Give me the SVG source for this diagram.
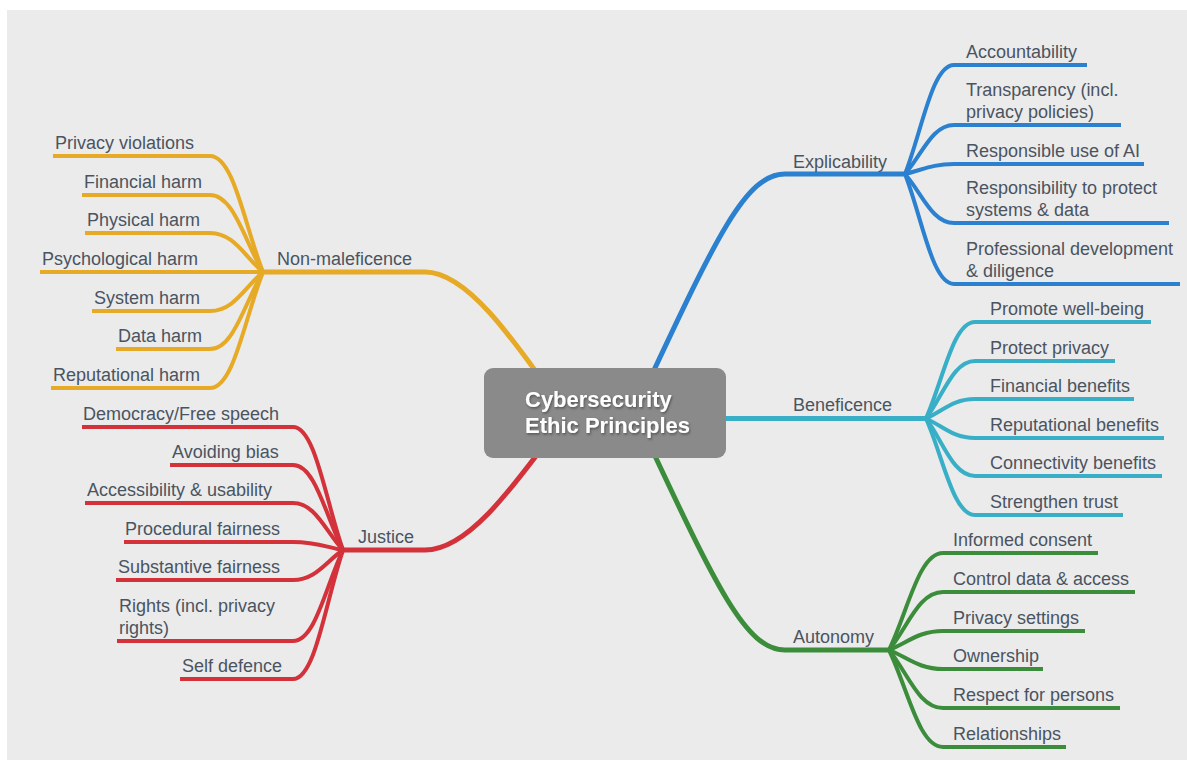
<svg xmlns="http://www.w3.org/2000/svg" width="1187" height="762" viewBox="0 0 1187 762">
  <defs>
    <filter id="textShadow" x="-10%" y="-30%" width="120%" height="160%">
      <feDropShadow dx="1" dy="1.5" stdDeviation="1" flood-color="#3a3a3a" flood-opacity="0.7"/>
    </filter>
    <style>
      .lbl { font-family: "Liberation Sans", Arial, Helvetica, sans-serif; font-size: 18px; fill: #4a5461; }
      .core { font-family: "Liberation Sans", Arial, Helvetica, sans-serif; font-size: 22px; font-weight: bold; fill: #ffffff; }
      .main { fill: none; stroke-width: 5; }
      .leaf { fill: none; stroke-width: 4; }
      .yellow { stroke: #e6aa26; }
      .red { stroke: #d3323a; }
      .blue { stroke: #2b80cf; }
      .cyan { stroke: #38afc7; }
      .green { stroke: #3b8d3b; }
    </style>
  </defs>

  <!-- page -->
  <rect x="0" y="0" width="1187" height="762" fill="#ffffff"/>
  <rect x="7" y="10" width="1180" height="750" fill="#ebebeb"/>

  <g id="connectors">
    <!-- main branches -->
    <path class="main yellow" d="M263,272 H425 C465,272 508,330 570,420"/>
    <path class="main red" d="M343,550 H425 C465,550 505,500 570,410"/>
    <path class="main blue" d="M905,174 H785 C745,174 715,240 640,400"/>
    <path class="main cyan" d="M700,418.5 H926"/>
    <path class="main green" d="M889,650 H785 C745,650 715,584 640,424"/>

    <!-- Non-maleficence leaves -->
    <path class="leaf yellow" d="M263,272 C244.5,225.6 233.9,156 210,156 H53"/>
    <path class="leaf yellow" d="M263,272 C244.5,241.2 233.9,195 210,195 H82"/>
    <path class="leaf yellow" d="M263,272 C244.5,256.4 233.9,233 210,233 H85"/>
    <path class="leaf yellow" d="M263,272 H40"/>
    <path class="leaf yellow" d="M263,272 C244.5,287.6 233.9,311 210,311 H92"/>
    <path class="leaf yellow" d="M263,272 C244.5,302.8 233.9,349 210,349 H116"/>
    <path class="leaf yellow" d="M263,272 C244.5,318.4 233.9,388 210,388 H51"/>

    <!-- Justice leaves -->
    <path class="leaf red" d="M343,550 C325.5,500.8 315.5,427 293,427 H82"/>
    <path class="leaf red" d="M343,550 C325.5,516 315.5,465 293,465 H170"/>
    <path class="leaf red" d="M343,550 C325.5,531.2 315.5,503 293,503 H85"/>
    <path class="leaf red" d="M343,550 C325.5,546.8 315.5,542 293,542 H124"/>
    <path class="leaf red" d="M343,550 C325.5,562 315.5,580 293,580 H116"/>
    <path class="leaf red" d="M343,550 C325.5,586.4 315.5,641 293,641 H117"/>
    <path class="leaf red" d="M343,550 C325.5,601.6 315.5,679 293,679 H180"/>

    <!-- Explicability leaves -->
    <path class="leaf blue" d="M905,174 C922.2,130.4 932,65 954,65 H1087"/>
    <path class="leaf blue" d="M905,174 C922.2,154.4 932,125 954,125 H1121"/>
    <path class="leaf blue" d="M905,174 C922.2,170 932,164 954,164 H1144"/>
    <path class="leaf blue" d="M905,174 C922.2,193.6 932,223 954,223 H1169"/>
    <path class="leaf blue" d="M905,174 C922.2,218 932,284 954,284 H1180"/>

    <!-- Beneficence leaves -->
    <path class="leaf cyan" d="M926,418.5 C943.2,379.9 953,322 975,322 H1151"/>
    <path class="leaf cyan" d="M926,418.5 C943.2,395.5 953,361 975,361 H1115"/>
    <path class="leaf cyan" d="M926,418.5 C943.2,410.7 953,399 975,399 H1134"/>
    <path class="leaf cyan" d="M926,418.5 C943.2,426.3 953,438 975,438 H1164"/>
    <path class="leaf cyan" d="M926,418.5 C943.2,441.5 953,476 975,476 H1162"/>
    <path class="leaf cyan" d="M926,418.5 C943.2,457.1 953,515 975,515 H1123"/>

    <!-- Autonomy leaves -->
    <path class="leaf green" d="M889,650 C907.9,611.2 918.7,553 943,553 H1098"/>
    <path class="leaf green" d="M889,650 C907.9,626.8 918.7,592 943,592 H1135"/>
    <path class="leaf green" d="M889,650 C907.9,642.4 918.7,631 943,631 H1085"/>
    <path class="leaf green" d="M889,650 C907.9,657.6 918.7,669 943,669 H1043"/>
    <path class="leaf green" d="M889,650 C907.9,673.2 918.7,708 943,708 H1120"/>
    <path class="leaf green" d="M889,650 C907.9,688.8 918.7,747 943,747 H1066"/>
  </g>

  <!-- central topic -->
  <g id="center">
    <rect x="484" y="368" width="242" height="90" rx="9" fill="#8a8a8a"/>
    <g filter="url(#textShadow)">
      <text class="core" x="525" y="407">Cybersecurity</text>
      <text class="core" x="525" y="433">Ethic Principles</text>
    </g>
  </g>

  <!-- main topics -->
  <g id="non-maleficence"><text class="lbl" x="277" y="265">Non-maleficence</text></g>
  <g id="justice"><text class="lbl" x="358" y="543">Justice</text></g>
  <g id="explicability"><text class="lbl" x="793" y="168">Explicability</text></g>
  <g id="beneficence"><text class="lbl" x="793" y="411">Beneficence</text></g>
  <g id="autonomy"><text class="lbl" x="793" y="643">Autonomy</text></g>

  <!-- Non-maleficence subtopics -->
  <g id="privacy-violations"><text class="lbl" x="55" y="149">Privacy violations</text></g>
  <g id="financial-harm"><text class="lbl" x="84" y="188">Financial harm</text></g>
  <g id="physical-harm"><text class="lbl" x="87" y="226">Physical harm</text></g>
  <g id="psychological-harm"><text class="lbl" x="42" y="265">Psychological harm</text></g>
  <g id="system-harm"><text class="lbl" x="94" y="304">System harm</text></g>
  <g id="data-harm"><text class="lbl" x="118" y="342">Data harm</text></g>
  <g id="reputational-harm"><text class="lbl" x="53" y="381">Reputational harm</text></g>

  <!-- Justice subtopics -->
  <g id="democracy"><text class="lbl" x="83" y="420">Democracy/Free speech</text></g>
  <g id="avoiding-bias"><text class="lbl" x="172" y="458">Avoiding bias</text></g>
  <g id="accessibility"><text class="lbl" x="87" y="496">Accessibility &amp; usability</text></g>
  <g id="procedural-fairness"><text class="lbl" x="125" y="535">Procedural fairness</text></g>
  <g id="substantive-fairness"><text class="lbl" x="118" y="573">Substantive fairness</text></g>
  <g id="rights"><text class="lbl" x="119" y="612">Rights (incl. privacy</text><text class="lbl" x="119" y="634">rights)</text></g>
  <g id="self-defence"><text class="lbl" x="182" y="672">Self defence</text></g>

  <!-- Explicability subtopics -->
  <g id="accountability"><text class="lbl" x="966" y="58">Accountability</text></g>
  <g id="transparency"><text class="lbl" x="966" y="96">Transparency (incl.</text><text class="lbl" x="966" y="118">privacy policies)</text></g>
  <g id="responsible-ai"><text class="lbl" x="966" y="157">Responsible use of AI</text></g>
  <g id="responsibility-protect"><text class="lbl" x="966" y="194">Responsibility to protect</text><text class="lbl" x="966" y="216">systems &amp; data</text></g>
  <g id="professional-development"><text class="lbl" x="966" y="255">Professional development</text><text class="lbl" x="966" y="277">&amp; diligence</text></g>

  <!-- Beneficence subtopics -->
  <g id="well-being"><text class="lbl" x="990" y="315">Promote well-being</text></g>
  <g id="protect-privacy"><text class="lbl" x="990" y="354">Protect privacy</text></g>
  <g id="financial-benefits"><text class="lbl" x="990" y="392">Financial benefits</text></g>
  <g id="reputational-benefits"><text class="lbl" x="990" y="431">Reputational benefits</text></g>
  <g id="connectivity-benefits"><text class="lbl" x="990" y="469">Connectivity benefits</text></g>
  <g id="strengthen-trust"><text class="lbl" x="990" y="508">Strengthen trust</text></g>

  <!-- Autonomy subtopics -->
  <g id="informed-consent"><text class="lbl" x="953" y="546">Informed consent</text></g>
  <g id="control-data"><text class="lbl" x="953" y="585">Control data &amp; access</text></g>
  <g id="privacy-settings"><text class="lbl" x="953" y="624">Privacy settings</text></g>
  <g id="ownership"><text class="lbl" x="953" y="662">Ownership</text></g>
  <g id="respect-persons"><text class="lbl" x="953" y="701">Respect for persons</text></g>
  <g id="relationships"><text class="lbl" x="953" y="740">Relationships</text></g>
</svg>
